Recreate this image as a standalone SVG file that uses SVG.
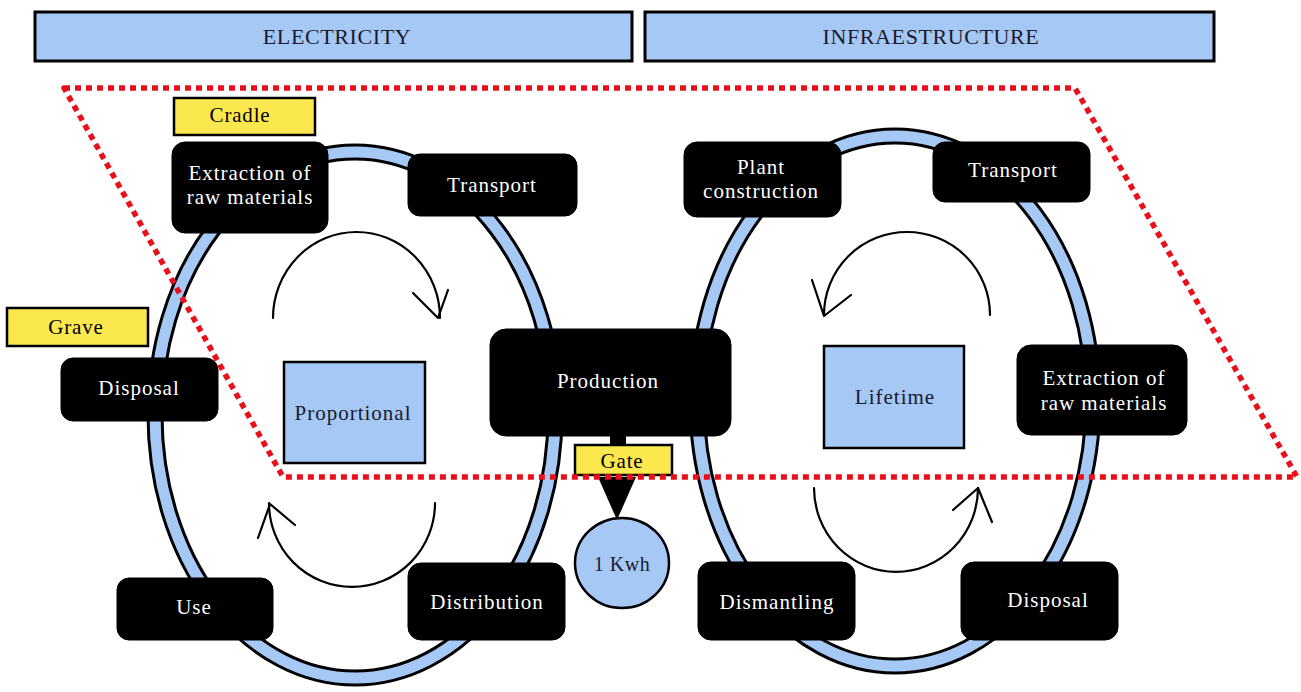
<svg xmlns="http://www.w3.org/2000/svg" width="1301" height="692" viewBox="0 0 1301 692">
<style>
.hdr{fill:#a6c8f5;stroke:#000;stroke-width:3}
.hdrt{font-family:"Liberation Serif",serif;font-size:22px;letter-spacing:0.6px;fill:#1a1a2e;text-anchor:middle}
.node{fill:#000;stroke:#000;stroke-width:1}
.nt{font-family:"Liberation Serif",serif;font-size:21px;letter-spacing:1px;fill:#fff;text-anchor:middle}
.lbl{fill:#fbe84f;stroke:#000;stroke-width:2.5}
.lt{font-family:"Liberation Serif",serif;font-size:21px;letter-spacing:0.8px;fill:#000;text-anchor:middle}
.bbox{fill:#a6c8f5;stroke:#000;stroke-width:2.5}
.bt{font-family:"Liberation Serif",serif;font-size:21px;letter-spacing:1px;fill:#1a1a2e;text-anchor:middle}
.ringo{fill:none;stroke:#000;stroke-width:17}
.ringi{fill:none;stroke:#a6c8f5;stroke-width:11}
.arc{fill:none;stroke:#000;stroke-width:2.2;stroke-linecap:round;stroke-linejoin:round}
.dot{fill:none;stroke:#e8101a;stroke-width:5.5;stroke-dasharray:6 5;stroke-linejoin:round}
</style>
<rect width="1301" height="692" fill="#fff"/>

<g id="header-electricity">
<rect class="hdr" x="35" y="12" width="597" height="49"/>
<text class="hdrt" x="337" y="44">ELECTRICITY</text>
</g>
<g id="header-infraestructure">
<rect class="hdr" x="645" y="12" width="569" height="49"/>
<text class="hdrt" x="931" y="44">INFRAESTRUCTURE</text>
</g>

<g id="connectors">
<ellipse class="ringo" cx="355" cy="415" rx="200" ry="263"/>
<ellipse class="ringi" cx="355" cy="415" rx="200" ry="263"/>
<ellipse class="ringo" cx="895" cy="401" rx="198" ry="265"/>
<ellipse class="ringi" cx="895" cy="401" rx="198" ry="265"/>
<path class="arc" d="M273,318 A83.5,86 0 0 1 440,318"/>
<path class="arc" d="M413,293 L438,318 L448,290"/>
<path class="arc" d="M435,503 A83,84 0 0 1 269,503"/>
<path class="arc" d="M258,538 L270,504 L295,525"/>
<path class="arc" d="M990,315 A83,83 0 0 0 824,315"/>
<path class="arc" d="M812,280 L824,316 L851,295"/>
<path class="arc" d="M814,488 A82,84 0 0 0 978,488"/>
<path class="arc" d="M953,510 L978,488 L992,522"/>
<rect x="610" y="434" width="16" height="12" fill="#000"/>
<polygon points="598,477 636,477 617,520" fill="#000"/>
</g>

<g id="node-extraction-left">
<rect class="node" x="172" y="142" width="156" height="91" rx="13"/>
<text class="nt" x="250" y="180">Extraction of</text>
<text class="nt" x="250" y="204">raw materials</text>
</g>
<g id="node-transport-left">
<rect class="node" x="408" y="154" width="169" height="62" rx="12"/>
<text class="nt" x="492" y="192">Transport</text>
</g>
<g id="node-disposal-left">
<rect class="node" x="61" y="358" width="157" height="63" rx="12"/>
<text class="nt" x="139" y="395">Disposal</text>
</g>
<g id="node-production">
<rect class="node" x="490" y="329" width="241" height="107" rx="16"/>
<text class="nt" x="608" y="388">Production</text>
</g>
<g id="node-use">
<rect class="node" x="117" y="578" width="156" height="62" rx="12"/>
<text class="nt" x="194" y="614">Use</text>
</g>
<g id="node-distribution">
<rect class="node" x="408" y="563" width="157" height="77" rx="13"/>
<text class="nt" x="487" y="609">Distribution</text>
</g>
<g id="node-plant-construction">
<rect class="node" x="684" y="142" width="157" height="75" rx="13"/>
<text class="nt" x="761" y="174">Plant</text>
<text class="nt" x="761" y="198">construction</text>
</g>
<g id="node-transport-right">
<rect class="node" x="933" y="142" width="157" height="60" rx="12"/>
<text class="nt" x="1013" y="177">Transport</text>
</g>
<g id="node-extraction-right">
<rect class="node" x="1017" y="345" width="170" height="90" rx="14"/>
<text class="nt" x="1104" y="385">Extraction of</text>
<text class="nt" x="1104" y="410">raw materials</text>
</g>
<g id="node-dismantling">
<rect class="node" x="698" y="562" width="157" height="78" rx="13"/>
<text class="nt" x="777" y="609">Dismantling</text>
</g>
<g id="node-disposal-right">
<rect class="node" x="961" y="562" width="157" height="78" rx="13"/>
<text class="nt" x="1048" y="607">Disposal</text>
</g>

<g id="box-proportional">
<rect class="bbox" x="284" y="362" width="141" height="101"/>
<text class="bt" x="353" y="420">Proportional</text>
</g>
<g id="box-lifetime">
<rect class="bbox" x="824" y="346" width="140" height="102"/>
<text class="bt" x="895" y="404">Lifetime</text>
</g>

<g id="label-cradle">
<rect class="lbl" x="174" y="98" width="141" height="37"/>
<text class="lt" x="240" y="122">Cradle</text>
</g>
<g id="label-grave">
<rect class="lbl" x="7" y="308" width="141" height="38"/>
<text class="lt" x="76" y="334">Grave</text>
</g>
<g id="label-gate">
<rect class="lbl" x="575" y="445" width="97" height="30"/>
<text class="lt" x="622" y="468">Gate</text>
</g>

<g id="node-1kwh">
<ellipse cx="622" cy="563" rx="47" ry="45" fill="#a6c8f5" stroke="#000" stroke-width="2.5"/>
<text class="bt" x="622" y="571" style="font-size:20px;letter-spacing:0.5px">1 Kwh</text>
</g>

<g id="boundary">
<path class="dot" d="M64,88 L1075,88 L1297,477 L283,477 Z"/>
</g>
</svg>
